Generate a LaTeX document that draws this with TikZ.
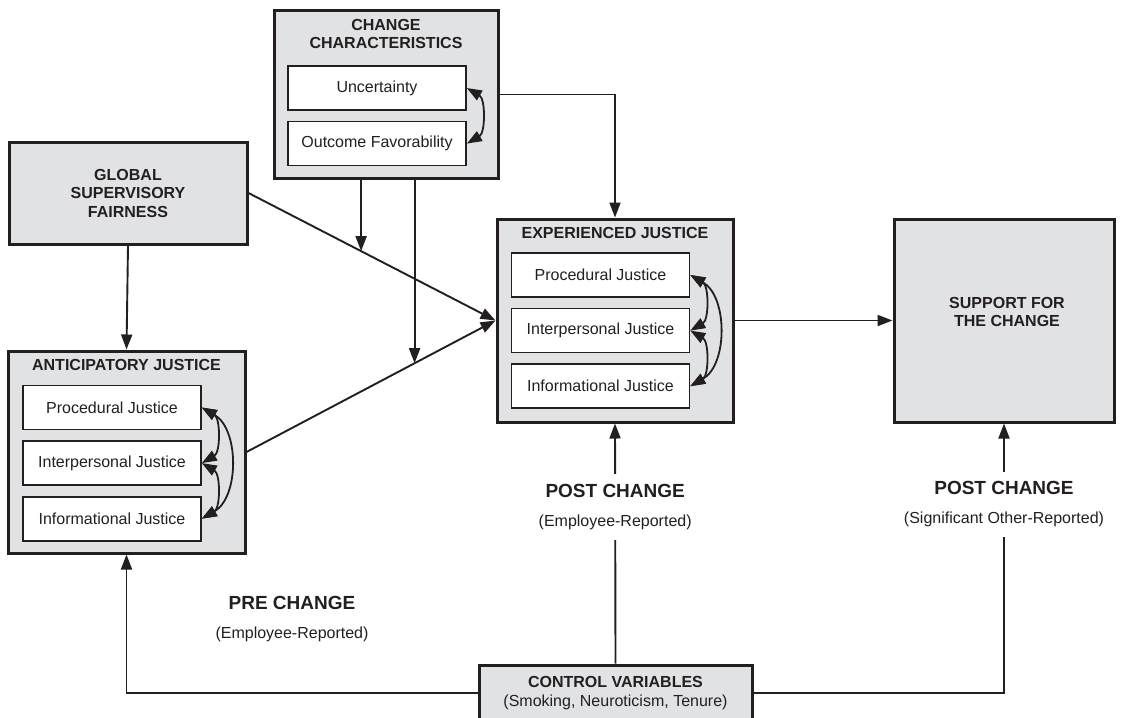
\documentclass[tikz,border=0pt]{standalone}
\usepackage{fontspec}
\setmainfont{Liberation Sans}
\usepackage{tikz}
\usetikzlibrary{positioning, calc, arrows.meta}

\definecolor{boxgray}{HTML}{E1E2E4}
\definecolor{ink}{HTML}{231F20}
\newcommand{\reporterfont}{\fontsize{16}{19}\selectfont\mdseries}

\tikzset{
  outerbox/.style={draw=ink, line width=3pt, fill=boxgray, inner sep=0pt},
  innerbox/.style={draw=ink, line width=1.6pt, fill=white, minimum width=178pt, minimum height=44pt, inner sep=0pt, text=ink, font=\fontsize{16}{19}\selectfont},
  boxtitle/.style={align=center, text=ink, font=\fontsize{16}{18.5}\selectfont\bfseries},
  link/.style={draw=ink, line width=1.9pt, -{Triangle[length=15pt, width=11pt]}},
  twoway/.style={draw=ink, line width=1.8pt, {Triangle[length=15pt, width=11pt]}-{Triangle[length=15pt, width=11pt]}, bend left=60},
  phase/.style={align=center, text=ink, inner ysep=10pt, font=\fontsize{19}{22}\selectfont\bfseries},
}

\begin{document}
\begin{tikzpicture}[x=1pt, y=-1pt]
    \useasboundingbox (0,0) rectangle (1123,717);

    % Change characteristics
    \node[outerbox, minimum width=224pt, minimum height=167pt] (change) at (386,94.5) {};
    \node[boxtitle] (changetitle) at (386,34) {CHANGE\\CHARACTERISTICS};
    \node[innerbox] (unc) at (377,88) {Uncertainty};
    \node[innerbox, below=10pt of unc] (fav) {Outcome Favorability};
    \draw[twoway] (unc.east) to (fav.east);

    % Global supervisory fairness
    \node[outerbox, boxtitle, minimum width=238pt, minimum height=102pt] (global) at (128,193) {GLOBAL\\SUPERVISORY\\FAIRNESS};

    % Anticipatory justice
    \node[outerbox, minimum width=237pt, minimum height=202pt] (antic) at (126.5,452) {};
    \node[boxtitle] (antictitle) at (126.5,365) {ANTICIPATORY JUSTICE};
    \node[innerbox] (aproc) at (112,407.5) {Procedural Justice};
    \node[innerbox, below=10pt of aproc] (ainter) {Interpersonal Justice};
    \node[innerbox, below=10pt of ainter] (ainfo) {Informational Justice};
    \draw[twoway] (aproc.east) to (ainter.east);
    \draw[twoway] (ainter.east) to (ainfo.east);
    \draw[twoway] (aproc.east) to (ainfo.east);

    % Experienced justice
    \node[outerbox, minimum width=236pt, minimum height=203pt] (exp) at (615,320.5) {};
    \node[boxtitle] (exptitle) at (615,233) {EXPERIENCED JUSTICE};
    \node[innerbox] (eproc) at (600.5,275) {Procedural Justice};
    \node[innerbox, below=10pt of eproc] (einter) {Interpersonal Justice};
    \node[innerbox, below=10pt of einter] (einfo) {Informational Justice};
    \draw[twoway] (eproc.east) to (einter.east);
    \draw[twoway] (einter.east) to (einfo.east);
    \draw[twoway] (eproc.east) to (einfo.east);

    % Support for the change
    \node[outerbox, minimum width=220pt, minimum height=203pt] (support) at (1004,320.5) {};
    \node[boxtitle] (supporttitle) at (1007,312) {SUPPORT FOR\\THE CHANGE};

    % Control variables
    \node[outerbox, boxtitle, minimum width=273pt, minimum height=56pt] (ctrl) at (615.5,693) {CONTROL VARIABLES\\{\mdseries (Smoking, Neuroticism, Tenure)}};

    % Main paths
    \draw[link] (global.south) -- (antic.north);
    \draw[link] (global.east) -- (exp.west) coordinate[pos=0.456] (gmod);
    \draw[link] (antic.east) -- (exp.west) coordinate[pos=0.675] (amod);
    \draw[link] (change.south -| gmod) -- (gmod);
    \draw[link] (change.south -| amod) -- (amod);
    \draw[link] (change.east) -| (exp.north);
    \draw[link] (exp.east) -- (support.west);

    % Measurement phases
    \node[phase] (pre) at (292,619) {PRE CHANGE\\[7pt]{\reporterfont (Employee-Reported)}};
    \draw[link] (ctrl.west) -| (antic.south);
    \draw[link] (ctrl.north) -- (exp.south) node[phase, fill=white, pos=0.652] (postemp) {POST CHANGE\\[7pt]{\reporterfont (Employee-Reported)}};
    \draw[link] (ctrl.east) -| (support.south) node[phase, fill=white, pos=0.85] (postsig) {POST CHANGE\\[7pt]{\reporterfont (Significant Other-Reported)}};
\end{tikzpicture}
\end{document}
